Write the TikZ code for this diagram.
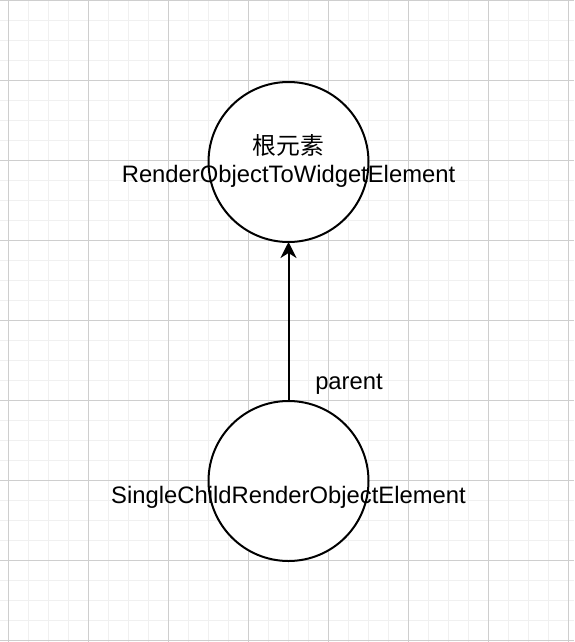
\documentclass[tikz,border=0pt]{standalone}
\usepackage{fontspec}
\setmainfont{Liberation Sans}
\newfontfamily\cjk{Noto Sans CJK SC}
\usetikzlibrary{arrows.meta}
\definecolor{gridminor}{RGB}{240,240,240}
\definecolor{gridmajor}{RGB}{206,206,206}
\tikzset{
  elem/.style={circle, draw=black, line width=2pt, fill=white, minimum size=160pt, inner sep=0pt, outer sep=0pt},
  lbl/.style={font=\fontsize{23.8pt}{28pt}\selectfont, anchor=base, inner sep=0pt},
  link/.style={line width=2pt, -{Stealth[length=16pt, width=16pt, inset=5pt]}},
  minorline/.style={draw=gridminor, line width=1pt},
  majorline/.style={draw=gridmajor, line width=1pt}
}
\begin{document}
\begin{tikzpicture}[x=1pt, y=-1pt]
\useasboundingbox (0,0) rectangle (574,642);
\fill[white] (0,0) rectangle (574,642);
% minor grid
\foreach \i in {0,...,28} {
  \draw[minorline] ({8.5+20*\i},0) -- ({8.5+20*\i},642);
}
\foreach \j in {0,...,32} {
  \draw[minorline] (0,{0.5+20*\j}) -- (574,{0.5+20*\j});
}
% major grid
\foreach \i in {0,...,7} {
  \draw[majorline] ({8.5+80*\i},0) -- ({8.5+80*\i},642);
}
\foreach \j in {0,...,8} {
  \draw[majorline] (0,{0.5+80*\j}) -- (574,{0.5+80*\j});
}
% nodes
\node[elem] (root) at (288.5,162) {};
\node[elem] (child) at (288.5,481) {};
\node[lbl] (roottitle) at (288.5,154) {\cjk 根元素};
\node[lbl] (rootname) at (288.5,182) {RenderObjectToWidgetElement};
\node[lbl] (childname) at (288.5,503) {SingleChildRenderObjectElement};
\draw[link] (child.north) -- (root.south);
\node[lbl] (parentlbl) at (349,389) {parent};
\end{tikzpicture}
\end{document}
